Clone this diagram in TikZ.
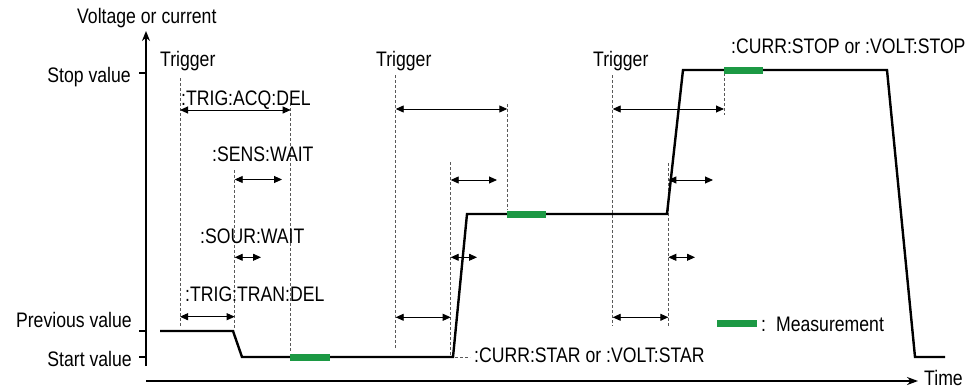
\documentclass[tikz,border=0pt]{standalone}
\usepackage{fontspec}
\setmainfont{Liberation Sans}[FakeStretch=0.84]
\usetikzlibrary{arrows.meta}
\definecolor{measgreen}{RGB}{28,153,68}
\begin{document}
\begin{tikzpicture}[x=1pt,y=-1pt,
  lbl/.style={anchor=base west,inner sep=0pt,font=\fontsize{21}{25}\selectfont},
  lble/.style={anchor=base east,inner sep=0pt,font=\fontsize{21}{25}\selectfont},
  axisline/.style={line width=2.6pt},
  tickline/.style={line width=2pt},
  wave/.style={line width=2.4pt,line join=miter},
  dim/.style={line width=0.9pt,{Triangle[length=8pt,width=7pt]}-{Triangle[length=8pt,width=7pt]}},
  guide/.style={line width=0.8pt,dash pattern=on 3pt off 2pt,draw=black!65},
  meas/.style={line width=7pt,draw=measgreen}]
\useasboundingbox (0,0) rectangle (979,388);

% axes
\coordinate (ybot) at (146,366);
\coordinate (ytop) at (146,31);
\coordinate (xleft) at (146,381);
\coordinate (xright) at (918,381);
\draw[axisline,-{Stealth[length=10pt,width=8pt]}] (ybot) -- (ytop);
\draw[axisline,-{Stealth[length=11pt,width=8pt]}] (xleft) -- (xright);
\draw[tickline] (139,72.7) -- (146,72.7);
\draw[tickline] (139,331) -- (146,331);
\draw[tickline] (139,357) -- (146,357);

% axis labels
\node[lbl] (vlab) at (77,23.5) {Voltage or current};
\node[lbl] (tlab) at (924,385.5) {Time};
\node[lble] (stopv) at (131,82) {Stop value};
\node[lble] (prevv) at (132,327.5) {Previous value};
\node[lble] (startv) at (132,366) {Start value};

% waveform points
\coordinate (w0) at (160,331);
\coordinate (w1) at (233,331);
\coordinate (w2) at (242,357);
\coordinate (w3) at (453,357);
\coordinate (w4) at (467,214);
\coordinate (w5) at (667,214);
\coordinate (w6) at (683,70);
\coordinate (w7) at (887,70);
\coordinate (w8) at (915,357);
\coordinate (w9) at (945,357);

% guides
\draw[guide] (180,78) -- (180,326);
\draw[guide] (234.7,170) -- (234.7,330);
\draw[guide] (290.7,103) -- (290.7,352);
\draw[guide] (395.7,75) -- (395.7,349);
\draw[guide] (450.7,162) -- (450.7,355);
\draw[guide] (507.3,104) -- (507.3,210);
\draw[guide] (612.7,75) -- (612.7,326);
\draw[guide] (668.3,163) -- (668.3,326);
\draw[guide] (724,73) -- (724,115);
\draw[guide] (455,357) -- (470,357);

% waveform
\draw[wave] (w0) -- (w1) -- (w2) -- (w3) -- (w4) -- (w5) -- (w6) -- (w7) -- (w8) -- (w9);

% measurements
\draw[meas] (290,357) -- (330,357);
\draw[meas] (507,214) -- (546,214);
\draw[meas] (724,70) -- (763,70);
\draw[meas] (717,323) -- (757,323);
\node[lbl] (measlab) at (761,331.5) {:\hspace{10pt}Measurement};

% time intervals, first trigger
\draw[dim] (180,110) -- (290.7,110);
\draw[dim] (234.7,179.5) -- (282,179.5);
\draw[dim] (234.7,257.3) -- (261,257.3);
\draw[dim] (180,316.7) -- (234.7,316.7);
% second trigger
\draw[dim] (395.7,109) -- (507.3,109);
\draw[dim] (450.7,180) -- (497,180);
\draw[dim] (450.7,257.3) -- (477,257.3);
\draw[dim] (395.7,317.3) -- (450.7,317.3);
% third trigger
\draw[dim] (612.7,109) -- (724,109);
\draw[dim] (668.3,180) -- (713,180);
\draw[dim] (668.3,257.3) -- (695,257.3);
\draw[dim] (612.7,317.3) -- (668.3,317.3);

% labels
\node[lbl] (trig1) at (160,66) {Trigger};
\node[lbl] (trig2) at (376,66) {Trigger};
\node[lbl] (trig3) at (593,66) {Trigger};
\node[lbl] (acq) at (181,105) {:TRIG:ACQ:DEL};
\node[lbl] (sens) at (212,161.7) {:SENS:WAIT};
\node[lbl] (sour) at (200,243.3) {:SOUR:WAIT};
\node[lbl] (tran) at (185,301.7) {:TRIG:TRAN:DEL};
\node[lbl] (star) at (474,362.7) {:CURR:STAR or :VOLT:STAR};
\node[lbl] (stop) at (731,53.3) {:CURR:STOP or :VOLT:STOP};
\end{tikzpicture}
\end{document}
